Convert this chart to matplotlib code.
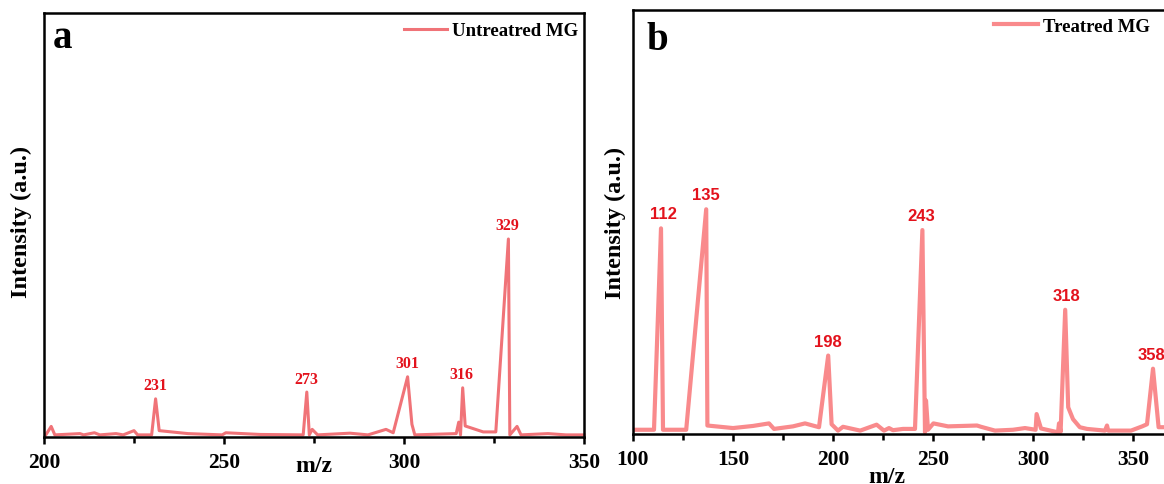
import matplotlib
matplotlib.use("Agg")
import matplotlib.pyplot as plt
from matplotlib.ticker import MultipleLocator

# panel a: untreated MG spectrum
mz_a = [200.5, 202, 203, 210, 211, 214, 215.5, 220, 222, 225, 226, 229.9, 231, 232,
        240, 249.5, 250.5, 260, 272, 273, 273.7, 274.5, 276, 285, 290, 295, 297,
        301, 302.2, 303, 314.5, 315.2, 315.7, 316.3, 317, 322, 325.5, 329, 329.4,
        331.4, 332.5, 340, 345, 350]
int_a = [0.5, 2.5, 0.5, 0.8, 0.5, 1.0, 0.5, 0.8, 0.5, 1.5, 0.5, 0.5, 9.0, 1.5,
         0.8, 0.5, 1.0, 0.6, 0.5, 10.6, 0.5, 1.8, 0.5, 0.9, 0.5, 1.8, 1.0,
         14.2, 3.0, 0.5, 0.8, 3.5, 0.5, 11.6, 2.6, 1.2, 1.2, 46.7, 0.5,
         2.5, 0.5, 0.8, 0.5, 0.5]
peaks_a = ["231", "273", "301", "316", "329"]
peak_x_a = [230.8, 273, 300.8, 315.8, 328.8]
peak_y_a = [9.0, 10.6, 14.2, 11.6, 46.7]

# panel b: treated MG spectrum
mz_b = [101.5, 110.5, 114, 115, 126.6, 136.6, 137.2, 150, 160, 168, 170.5, 180,
        186, 193, 197.6, 199.3, 202.5, 205, 213.6, 221.8, 225.5, 228, 230, 235,
        241, 244.7, 246, 246.5, 247.5, 250.2, 257.5, 272, 274, 281, 290, 296,
        301.3, 301.8, 304, 312.5, 313, 313.8, 316.1, 317.6, 320, 323.4, 327,
        336, 337, 337.6, 349, 354.6, 357, 360, 362.8, 370]
int_b = [1.0, 1.0, 48.5, 1.0, 1.0, 53.0, 2.0, 1.4, 1.9, 2.5, 1.2, 1.8,
         2.5, 1.6, 18.5, 2.3, 0.8, 1.7, 0.8, 2.2, 0.8, 1.4, 0.9, 1.2,
         1.2, 48.1, 0.4, 7.9, 1.0, 2.5, 1.8, 2.0, 1.7, 0.8, 1.0, 1.4,
         1.0, 4.7, 1.3, 0.4, 2.5, 0.5, 29.3, 6.3, 3.5, 1.6, 1.2,
         0.8, 2.0, 0.8, 0.8, 1.8, 2.3, 15.4, 1.6, 1.6]
peaks_b = ["112", "135", "198", "243", "318", "358"]
peak_x_b = [115, 136.6, 197.6, 244.3, 317, 359.5]
peak_y_b = [48.5, 53.0, 18.5, 48.1, 29.3, 15.4]

SERIF = "Liberation Serif"
SANS = "Liberation Sans"
RED = "#E3121C"

fig = plt.figure(figsize=(11.64, 4.85), dpi=100)
ax_a = fig.add_axes([44 / 1164, 47 / 485, 540 / 1164, 424 / 485])
ax_b = fig.add_axes([633 / 1164, 50 / 485, 600 / 1164, 424 / 485])


def style_axis(ax, xmin, xmax):
    ax.set_xlim(xmin, xmax)
    ax.set_ylim(0, 100)
    ax.xaxis.set_major_locator(MultipleLocator(50))
    ax.xaxis.set_minor_locator(MultipleLocator(25))
    ax.set_yticks([])
    for s in ax.spines.values():
        s.set_linewidth(1.8)
    ax.tick_params(axis="x", which="both", direction="out", width=1.8, pad=6)
    ax.tick_params(axis="x", which="major", length=5)
    ax.tick_params(axis="x", which="minor", length=4)
    for lab in ax.get_xticklabels():
        lab.set_fontfamily(SERIF)
        lab.set_fontweight("bold")
        lab.set_fontsize(15.5)


# panel a
style_axis(ax_a, 200, 350)
ax_a.plot(mz_a, int_a, color="#F07378", lw=2.2, label="Untreatred MG", clip_on=False)
for lab, px, py in zip(peaks_a, peak_x_a, peak_y_a):
    ax_a.annotate(lab, (px, py), xytext=(0, 4), textcoords="offset points",
                  ha="center", va="bottom", color=RED, fontsize=11.5,
                  fontweight="bold", fontfamily=SERIF)
ax_a.set_xlabel("m/z", fontsize=17, fontweight="bold", fontfamily=SERIF)
ax_a.xaxis.set_label_coords(0.5, -0.068)
ax_a.xaxis.label.set_va("center")
ax_a.set_ylabel("Intensity (a.u.)", fontsize=17.5, fontweight="bold", fontfamily=SERIF)
ax_a.yaxis.set_label_coords(-0.041, 0.51)
ax_a.yaxis.label.set_va("center")
ax_a.text(0.035, 0.92, "a", transform=ax_a.transAxes, ha="center", va="baseline",
          fontsize=28, fontweight="bold", fontfamily=SERIF)
ax_a.legend(loc="center right", bbox_to_anchor=(0.99, 0.958), frameon=False,
            borderpad=0, borderaxespad=0, handlelength=2.3, handletextpad=0.3,
            prop={"family": SERIF, "weight": "bold", "size": 13.5})

# panel b
style_axis(ax_b, 100, 400)
ax_b.plot(mz_b, int_b, color="#F98A8C", lw=3, label="Treatred MG", clip_on=False)
for lab, px, py in zip(peaks_b, peak_x_b, peak_y_b):
    ax_b.annotate(lab, (px, py), xytext=(0, 5), textcoords="offset points",
                  ha="center", va="bottom", color=RED, fontsize=12,
                  fontweight="bold", fontfamily=SANS)
ax_b.set_xlabel("m/z", fontsize=17, fontweight="bold", fontfamily=SERIF)
ax_b.xaxis.set_label_coords(0.423, -0.10)
ax_b.xaxis.label.set_va("center")
ax_b.set_ylabel("Intensity (a.u.)", fontsize=17.5, fontweight="bold", fontfamily=SERIF)
ax_b.yaxis.set_label_coords(-0.03, 0.5)
ax_b.yaxis.label.set_va("center")
ax_b.text(0.04, 0.908, "b", transform=ax_b.transAxes, ha="center", va="baseline",
          fontsize=28, fontweight="bold", fontfamily=SERIF)
ax_b.legend(loc="center right", bbox_to_anchor=(0.862, 0.962), frameon=False,
            borderpad=0, borderaxespad=0, handlelength=2.3, handletextpad=0.3,
            prop={"family": SERIF, "weight": "bold", "size": 13.5})

fig.savefig("out.png", dpi=100)
